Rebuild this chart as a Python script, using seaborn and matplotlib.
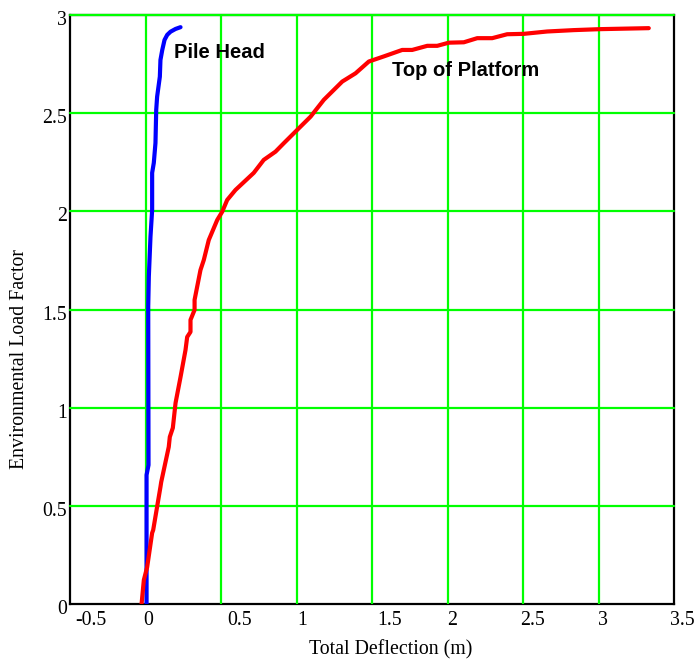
import numpy as np
import pandas as pd
import matplotlib
matplotlib.use("Agg")
import matplotlib.pyplot as plt
import matplotlib.transforms as mtransforms
import seaborn as sns

# Top of platform deflection (m) vs environmental load factor
platform_defl = [-0.026, -0.011, 0.011, 0.044, 0.051, 0.099, 0.104, 0.154, 0.161, 0.181,
                 0.199, 0.232, 0.265, 0.276, 0.298, 0.298, 0.325, 0.325, 0.364, 0.386,
                 0.419, 0.475, 0.508, 0.541, 0.596, 0.717, 0.783, 0.861, 0.916, 1.005,
                 1.093, 1.181, 1.303, 1.391, 1.479, 1.578, 1.700, 1.766, 1.866, 1.932,
                 2.009, 2.108, 2.197, 2.296, 2.395, 2.505, 2.660, 2.836, 3.013, 3.333]
platform_load = [0.000, 0.122, 0.188, 0.362, 0.377, 0.596, 0.621, 0.800, 0.851, 0.897,
                 1.024, 1.156, 1.294, 1.360, 1.386, 1.447, 1.498, 1.549, 1.701, 1.752,
                 1.854, 1.956, 1.998, 2.058, 2.109, 2.196, 2.262, 2.304, 2.347, 2.415,
                 2.482, 2.568, 2.661, 2.703, 2.763, 2.789, 2.822, 2.822, 2.843, 2.843,
                 2.859, 2.861, 2.882, 2.882, 2.902, 2.904, 2.916, 2.923, 2.928, 2.933]

# Pile head deflection (m) vs environmental load factor
pile_defl = [0.007, 0.007, 0.020, 0.018, 0.022, 0.033, 0.044, 0.044, 0.055, 0.066,
             0.071, 0.077, 0.095, 0.099, 0.111, 0.126, 0.144, 0.166, 0.199, 0.232]
pile_load = [0.000, 0.657, 0.708, 1.515, 1.667, 1.871, 2.007, 2.196, 2.247, 2.348,
             2.517, 2.584, 2.686, 2.771, 2.822, 2.873, 2.899, 2.915, 2.929, 2.938]

x_ticks = [-0.5, 0, 0.5, 1, 1.5, 2, 2.5, 3, 3.5]
x_tick_labels = ["-0.5", "0", "0.5", "1", "1.5", "2", "2.5", "3", "3.5"]
y_ticks = [0, 0.5, 1, 1.5, 2, 2.5, 3]
y_tick_labels = ["0", "0.5", "1", "1.5", "2", "2.5", "3"]

sns.set_style("white")
plt.rcParams["text.color"] = "black"
plt.rcParams["xtick.color"] = "black"
plt.rcParams["ytick.color"] = "black"
plt.rcParams["axes.labelcolor"] = "black"
serif = ["Liberation Serif", "DejaVu Serif"]
sans = ["Liberation Sans", "DejaVu Sans"]
FS = 14.3
GREEN = "#00ff00"

fig = plt.figure(figsize=(6.97, 6.61), dpi=100)
ax = fig.add_axes([70 / 697, 1 - 604 / 661, 604 / 697, 589 / 661])

pile_df = pd.DataFrame({"defl": pile_defl, "load": pile_load})
plat_df = pd.DataFrame({"defl": platform_defl, "load": platform_load})

sns.lineplot(data=pile_df, x="defl", y="load", sort=False, estimator=None,
             color="#0000ff", linewidth=3.0, ax=ax, zorder=4)
sns.lineplot(data=plat_df, x="defl", y="load", sort=False, estimator=None,
             color="#ff0000", linewidth=3.0, ax=ax, zorder=4)

ax.set_xlim(-0.5, 3.5)
ax.set_ylim(0, 3)

# green grid drawn at every tick
for xv in x_ticks[1:-1]:
    ax.axvline(xv, color=GREEN, linewidth=1.6, zorder=1)
for yv in y_ticks[1:]:
    ax.axhline(yv, color=GREEN, linewidth=1.6, zorder=1, clip_on=False)

for side in ["left", "bottom", "right", "top"]:
    ax.spines[side].set_visible(True)
    ax.spines[side].set_color("black")
    ax.spines[side].set_linewidth(1.6)
    ax.spines[side].set_zorder(0.5)

ax.set_xticks(x_ticks)
ax.set_xticklabels(x_tick_labels, fontfamily=serif, fontsize=FS, color="black")
ax.set_yticks(y_ticks)
ax.set_yticklabels(y_tick_labels, fontfamily=serif, fontsize=FS, color="black")
ax.tick_params(axis="both", length=0)
ax.tick_params(axis="x", pad=5)
ax.tick_params(axis="y", pad=2)

# x tick labels sit to the right of their grid lines (pixel shifts)
x_label_shift = [5, -2.5, 6, 0.5, 5, -0.5, -3, -0.5, -4]
for lbl, dx in zip(ax.get_xticklabels(), x_label_shift):
    lbl.set_horizontalalignment("left")
    lbl.set_transform(lbl.get_transform() +
                      mtransforms.ScaledTranslation(dx / 100, 0, fig.dpi_scale_trans))
for lbl in ax.get_yticklabels():
    lbl.set_transform(lbl.get_transform() +
                      mtransforms.ScaledTranslation(0, -3 / 100, fig.dpi_scale_trans))

ax.set_xlabel("Total Deflection (m)", fontfamily=serif, fontsize=FS, color="black")
ax.xaxis.label.set_verticalalignment("center")
ax.xaxis.set_label_coords((391 - 70) / 604, (604 - 650) / 589)
ax.set_ylabel("Environmental Load Factor", fontfamily=serif, fontsize=FS, color="black")
ax.yaxis.label.set_verticalalignment("center")
ax.yaxis.set_label_coords((20 - 70) / 604, (604 - 359) / 589)

ax.text(0.19, 2.81, "Pile Head", fontfamily=sans, fontweight="bold",
        fontsize=14.5, va="center", ha="left", color="black", zorder=5)
ax.text(1.63, 2.717, "Top of Platform", fontfamily=sans, fontweight="bold",
        fontsize=14.5, va="center", ha="left", color="black", zorder=5)

fig.savefig("out.png", dpi=100, facecolor="white")
